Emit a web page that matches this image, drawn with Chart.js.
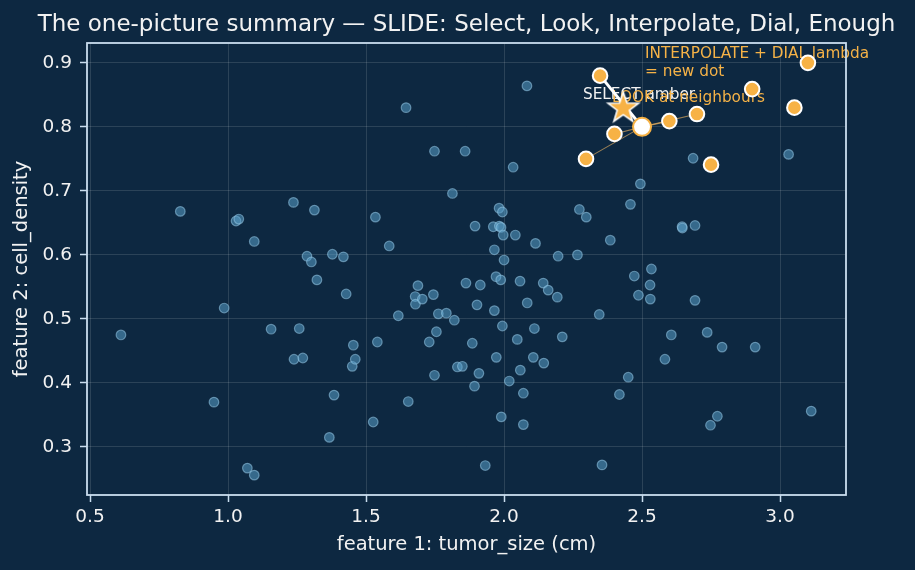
<!DOCTYPE html>
<html>
<head>
<meta charset="utf-8">
<script src="https://cdn.jsdelivr.net/npm/chart.js@4.4.1/dist/chart.umd.min.js"></script>
<style>
  html, body { margin: 0; padding: 0; background: #0d2841; }
  #wrap { width: 915px; height: 570px; }
</style>
</head>
<body>
<div id="wrap"><canvas id="grafico" width="915" height="570"></canvas></div>
<script>
// ---- dados ----
// pontos azuis (classe majoritária)
const azulX = [0.612,0.827,0.949,0.986,1.029,1.039,1.095,1.070,1.095,1.156,1.237,1.239,1.271,1.258,1.286,1.302,1.313,1.322,1.378,1.384,
  1.367,1.418,1.428,1.450,1.454,1.461,1.526,1.534,1.541,1.584,1.617,1.645,1.653,1.678,1.679,1.688,1.704,1.729,1.744,1.748,
  1.748,1.755,1.762,1.791,1.813,1.820,1.831,1.849,1.859,1.862,1.885,1.893,1.895,1.902,1.909,1.914,1.932,1.961,1.965,1.965,
  1.971,1.972,1.982,1.983,1.988,1.989,1.990,1.994,1.994,1.997,2.000,2.019,2.033,2.041,2.048,2.058,2.059,2.070,2.070,2.083,
  2.084,2.106,2.110,2.114,2.142,2.144,2.160,2.193,2.196,2.211,2.266,2.273,2.298,2.345,2.355,2.385,2.418,2.450,2.458,2.472,
  2.487,2.494,2.529,2.530,2.534,2.583,2.606,2.645,2.646,2.685,2.692,2.692,2.736,2.748,2.773,2.790,2.910,3.031,3.113];
const azulY = [0.475,0.668,0.370,0.517,0.653,0.656,0.621,0.267,0.256,0.484,0.682,0.437,0.439,0.485,0.598,0.589,0.670,0.561,0.601,0.381,
  0.315,0.597,0.539,0.426,0.459,0.437,0.339,0.659,0.464,0.614,0.505,0.830,0.371,0.535,0.523,0.552,0.531,0.464,0.538,0.762,
  0.412,0.480,0.508,0.509,0.696,0.498,0.425,0.426,0.762,0.556,0.462,0.395,0.645,0.522,0.415,0.553,0.271,0.644,0.608,0.513,
  0.566,0.440,0.673,0.645,0.561,0.643,0.347,0.667,0.489,0.631,0.592,0.403,0.737,0.631,0.468,0.559,0.420,0.384,0.335,0.864,
  0.525,0.440,0.485,0.618,0.556,0.431,0.545,0.534,0.598,0.472,0.600,0.671,0.659,0.507,0.272,0.623,0.382,0.409,0.679,0.567,
  0.537,0.711,0.553,0.531,0.578,0.437,0.475,0.644,0.642,0.751,0.646,0.529,0.479,0.334,0.348,0.456,0.456,0.757,0.356];

// pontos âmbar (classe minoritária)
const ambarX = [2.348,2.297,2.400,2.599,2.699,2.750,2.899,3.052,3.101];
const ambarY = [0.880,0.750,0.789,0.809,0.820,0.741,0.859,0.830,0.900];

// ponto selecionado (estrela) e ponto sintético novo
const selecionado = { x: 2.432, y: 0.829 };
const novoPonto   = { x: 2.500, y: 0.800 };
// vizinhos ligados ao ponto novo (índices em ambarX/ambarY)
const vizinhos = [1, 2, 3, 4];
const parceiro = 0;

const xTicks = [0.5, 1.0, 1.5, 2.0, 2.5, 3.0];
const yTicks = [0.3, 0.4, 0.5, 0.6, 0.7, 0.8, 0.9];

const titulo = "The one-picture summary — SLIDE: Select, Look, Interpolate, Dial, Enough";
const rotuloX = "feature 1: tumor_size (cm)";
const rotuloY = "feature 2: cell_density";

// anotações: [texto, x, y, cor]
const anotacoes = [
  ["SELECT amber", 2.286, 0.849, "#f2f2f2"],
  ["LOOK at neighbours", 2.391, 0.8445, "#f5b247"],
  ["INTERPOLATE + DIAL lambda", 2.511, 0.9145, "#f5b247"],
  ["= new dot", 2.511, 0.8855, "#f5b247"]
];

const AMBAR = "#f7b245";
const FONTE = "'DejaVu Sans', sans-serif";

// estrela preenchida como pointStyle
function criaEstrela(rExt) {
  const c = document.createElement("canvas");
  const tam = Math.ceil(rExt * 2 + 6);
  c.width = tam; c.height = tam;
  const g = c.getContext("2d");
  const cx = tam / 2, cy = tam / 2, rInt = rExt * 0.40;
  g.beginPath();
  for (let i = 0; i < 10; i++) {
    const r = i % 2 === 0 ? rExt : rInt;
    const a = -Math.PI / 2 + i * Math.PI / 5;
    g.lineTo(cx + r * Math.cos(a), cy + r * Math.sin(a));
  }
  g.closePath();
  g.fillStyle = AMBAR;
  g.fill();
  g.lineWidth = 1.6;
  g.strokeStyle = "#ffffff";
  g.stroke();
  return c;
}

const pontosAzuis = azulX.map((x, i) => ({ x, y: azulY[i] }));
const pontosAmbar = ambarX.map((x, i) => ({ x, y: ambarY[i] }));

const linhasVizinhos = vizinhos.map(i => ({
  type: "line",
  data: [novoPonto, pontosAmbar[i]],
  borderColor: "rgba(230,175,95,0.65)",
  borderWidth: 1.1,
  pointRadius: 0,
  order: 4
}));

const fundo = {
  id: "fundo",
  beforeDraw(chart) {
    const ctx = chart.ctx;
    ctx.save();
    ctx.fillStyle = "#0d2841";
    ctx.fillRect(0, 0, chart.width, chart.height);
    ctx.restore();
  }
};

const textos = {
  id: "textos",
  beforeDatasetsDraw(chart) {
    const { ctx, scales: { x, y } } = chart;
    ctx.save();
    ctx.font = "15.3px " + FONTE;
    ctx.textBaseline = "middle";
    ctx.textAlign = "left";
    anotacoes.forEach(([t, ax, ay, cor]) => {
      ctx.fillStyle = cor;
      ctx.fillText(t, x.getPixelForValue(ax), y.getPixelForValue(ay));
    });
    ctx.restore();
  },
  afterDraw(chart) {
    const { ctx, chartArea: a } = chart;
    ctx.save();
    ctx.strokeStyle = "#c9ddef";
    ctx.lineWidth = 1.8;
    ctx.strokeRect(a.left, a.top, a.right - a.left, a.bottom - a.top);
    ctx.fillStyle = "#f2f2f2";
    ctx.font = "23px " + FONTE;
    ctx.textAlign = "center";
    ctx.textBaseline = "middle";
    ctx.fillText(titulo, (a.left + a.right) / 2, 25);
    ctx.restore();
  }
};

new Chart(document.getElementById("grafico"), {
  type: "scatter",
  data: {
    datasets: [
      {
        data: [selecionado],
        pointStyle: criaEstrela(16),
        pointRadius: 16,
        order: 1
      },
      {
        data: [novoPonto],
        backgroundColor: "#ffffff",
        borderColor: AMBAR,
        borderWidth: 2,
        pointRadius: 9,
        order: 0
      },
      {
        data: pontosAmbar,
        backgroundColor: AMBAR,
        borderColor: "#ffffff",
        borderWidth: 2,
        pointRadius: 7.3,
        order: 2
      },
      {
        type: "line",
        data: [pontosAmbar[parceiro], novoPonto],
        borderColor: "#ffffff",
        borderWidth: 3,
        pointRadius: 0,
        order: 3
      },
      ...linhasVizinhos,
      {
        data: pontosAzuis,
        backgroundColor: "rgba(90,158,200,0.55)",
        borderColor: "rgba(150,200,230,0.55)",
        borderWidth: 1.2,
        pointRadius: 4.8,
        order: 5
      }
    ]
  },
  options: {
    responsive: false,
    animation: false,
    layout: { padding: { left: 0, right: 69, top: 43, bottom: 0 } },
    plugins: { legend: { display: false }, tooltip: { enabled: false }, title: { display: false } },
    scales: {
      x: {
        type: "linear",
        min: 0.489, max: 3.239,
        afterBuildTicks: s => { s.ticks = xTicks.map(v => ({ value: v })); },
        afterFit: s => { s.height = 75; },
        grid: { color: "rgba(255,255,255,0.16)", lineWidth: 0.8, tickColor: "#c9ddef", tickLength: 7, tickWidth: 1.5 },
        border: { display: false },
        ticks: { color: "#f2f2f2", font: { family: FONTE, size: 18.5 }, padding: 4, maxRotation: 0,
          callback: v => v.toFixed(1) },
        title: { display: true, text: rotuloX, color: "#f2f2f2", font: { family: FONTE, size: 19.5 },
          padding: { top: 0, bottom: 13 } }
      },
      y: {
        type: "linear",
        min: 0.225, max: 0.931,
        afterBuildTicks: s => { s.ticks = yTicks.map(v => ({ value: v })); },
        afterFit: s => { s.width = 87; },
        grid: { color: "rgba(255,255,255,0.16)", lineWidth: 0.8, tickColor: "#c9ddef", tickLength: 7, tickWidth: 1.5 },
        border: { display: false },
        ticks: { color: "#f2f2f2", font: { family: FONTE, size: 18.5 }, padding: 8,
          callback: v => v.toFixed(1) },
        title: { display: true, text: rotuloY, color: "#f2f2f2", font: { family: FONTE, size: 19.5 },
          padding: { top: 10, bottom: 0 } }
      }
    }
  },
  plugins: [fundo, textos]
});
</script>
</body>
</html>
